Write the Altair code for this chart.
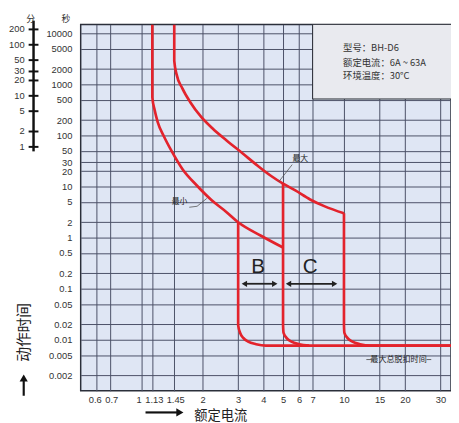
import altair as alt
import pandas as pd

RED = "#e3232c"
INK = "#23262e"
GRID = "#4a5066"
BOX = "#e9eaef"
CJK = "Noto Sans CJK SC"
LATIN = "Liberation Sans"

# ---- axes ----
x_ticks = [0.6, 0.7, 1, 1.13, 1.45, 2, 3, 4, 5, 6, 7, 10, 15, 20, 30]
y_ticks = [10000, 5000, 2000, 1000, 500, 200, 100, 50, 30, 20, 10, 5, 2, 1,
           0.5, 0.2, 0.1, 0.05, 0.02, 0.01, 0.005, 0.002]
minute_ticks = [200, 100, 50, 30, 20, 10, 5, 2, 1]
x_domain = [0.5, 33.8]
y_domain = [0.001, 15000]

# ---- curves (multiple of rated current, seconds) ----
min_curve_x = [1.13, 1.13, 1.16, 1.20, 1.29, 1.41, 1.59, 1.88, 2.22, 2.63, 3.0, 3.89, 5.0]
min_curve_y = [15000, 560, 316, 186, 96, 49, 22.2, 10.4, 5.4, 3.16, 2.0, 1.09, 0.64]

max_curve_x = [1.45, 1.45, 1.49, 1.59, 1.74, 1.97, 2.25, 2.63, 3.15, 3.76, 4.35, 5.0, 5.75, 6.8, 8.04, 10.0]
max_curve_y = [15000, 2900, 1560, 840, 450, 232, 136, 80, 45, 25.3, 16.3, 11.4, 8.4, 5.6, 4.1, 3.0]

drop3_x = [3.0, 3.0, 3.07, 3.18, 3.36, 3.68, 4.11, 40]
drop3_y = [2.0, 0.0194, 0.0136, 0.0109, 0.0092, 0.0082, 0.0077, 0.0077]

drop5_x = [5.0, 5.0, 5.03, 5.2, 5.5, 6.01, 6.72]
drop5_y = [11.4, 0.0194, 0.0136, 0.0109, 0.0092, 0.0082, 0.0077]

drop10_x = [10.0, 10.0, 10.05, 10.4, 11.0, 12.0, 13.5, 40]
drop10_y = [3.0, 0.0194, 0.0136, 0.0109, 0.0092, 0.0082, 0.0077, 0.0077]

# ---- annotations ----
box_x = [7.0, 40]
box_y = [520, 15000]
info_lines = ["型号：BH-D6", "额定电流：6A ~ 63A", "环境温度：30°C"]
info_x = [9.9, 9.9, 9.9]
info_y = [5150, 2650, 1490]

label_text = ["最大", "最小"]
label_x = [6.08, 1.54]
label_y = [34.5, 4.92]

leader_max_x = [5.55, 4.75]
leader_max_y = [27.0, 12.3]
leader_min_x = [1.72, 1.88, 2.10]
leader_min_y = [3.94, 4.12, 5.87]

zone_text = ["B", "C"]
zone_x = [3.76, 6.80]
zone_y = [0.265, 0.265]
arrow_start = [3.22, 5.32]
arrow_end = [4.55, 8.99]
arrow_y = [0.125, 0.125]

trip_text = "最大总脱扣时间"
trip_x = 18.6
trip_y = 0.0041
trip_dash_x1 = [12.9, 25.6]
trip_dash_x2 = [13.7, 27.0]

# ---- build tables ----
rows = []
for name, xs_, ys_ in [("min", min_curve_x, min_curve_y), ("max", max_curve_x, max_curve_y),
                       ("d3", drop3_x, drop3_y), ("d5", drop5_x, drop5_y), ("d10", drop10_x, drop10_y)]:
    for i, (a, b) in enumerate(zip(xs_, ys_)):
        rows.append({"series": name, "x": a, "y": b, "order": i})
curves = pd.DataFrame(rows)

lrows = []
for name, xs_, ys_ in [("lmax", leader_max_x, leader_max_y), ("lmin", leader_min_x, leader_min_y)]:
    for i, (a, b) in enumerate(zip(xs_, ys_)):
        lrows.append({"series": name, "x": a, "y": b, "order": i})
leaders = pd.DataFrame(lrows)

box_df = pd.DataFrame({"x1": [box_x[0]], "x2": [box_x[1]], "y1": [box_y[0]], "y2": [box_y[1]]})
info_df = pd.DataFrame({"t": info_lines, "x": info_x, "y": info_y})
label_df = pd.DataFrame({"t": label_text, "x": label_x, "y": label_y})
zone_df = pd.DataFrame({"t": zone_text, "x": zone_x, "y": zone_y})
arrow_df = pd.DataFrame({"x1": arrow_start, "x2": arrow_end, "y": arrow_y})
head_l = pd.DataFrame({"x": arrow_start, "y": arrow_y})
head_r = pd.DataFrame({"x": arrow_end, "y": arrow_y})
trip_df = pd.DataFrame({"t": [trip_text], "x": [trip_x], "y": [trip_y]})
dash_df = pd.DataFrame({"x1": trip_dash_x1, "x2": trip_dash_x2, "y": [trip_y, trip_y]})
minute_df = pd.DataFrame({"m": [str(m) for m in minute_ticks], "s": [m * 60 for m in minute_ticks]})
minute_line = pd.DataFrame({"s1": [49], "s2": [17800]})
one = pd.DataFrame({"a": [0]})

xs = alt.Scale(type="log", domain=x_domain, nice=False)
ys = alt.Scale(type="log", domain=y_domain, nice=False)

x_label_offset = {
    "condition": [
        {"test": "datum.value == 0.6", "value": -2},
        {"test": "datum.value == 0.7", "value": 1},
        {"test": "datum.value == 1", "value": -3},
        {"test": "datum.value == 1.13", "value": 1.5},
        {"test": "datum.value == 1.45", "value": 1},
    ],
    "value": 0,
}

x_axis = alt.Axis(values=x_ticks, format="~g", labelOffset=x_label_offset,
                  labelOverlap=False, labelFlush=False,
                  ticks=False, tickSize=0, domain=False, grid=True, gridColor=GRID, gridWidth=1,
                  labelFont=LATIN, labelFontSize=9.5, labelColor="#333", labelPadding=4,
                  title="额定电流", titleFont=CJK, titleFontSize=13.5, titleFontWeight="normal",
                  titleColor="#222", titleX=142, titleY=25, titleAlign="center", titleBaseline="middle")
y_axis = alt.Axis(values=y_ticks, format="~g", labelOverlap=False, labelFlush=False,
                  ticks=False, tickSize=0, domain=False, grid=True, gridColor=GRID, gridWidth=1,
                  labelFont=LATIN, labelFontSize=9.5, labelColor="#333", labelPadding=9,
                  title="动作时间", titleFont=CJK, titleFontSize=15, titleFontWeight="normal",
                  titleColor="#222", titleX=-58, titleY=313, titleAngle=270,
                  titleAlign="center", titleBaseline="middle")


def X(f="x"):
    return alt.X(f + ":Q", scale=xs, axis=x_axis)


def Y(f="y"):
    return alt.Y(f + ":Q", scale=ys, axis=y_axis)


box = alt.Chart(box_df).mark_rect(fill=BOX, stroke=INK, strokeWidth=1, clip=True).encode(
    x=X("x1"), x2="x2:Q", y=Y("y1"), y2="y2:Q")

lines = alt.Chart(curves).mark_line(color=RED, strokeWidth=2.7, strokeJoin="round",
                                    interpolate="monotone", clip=True).encode(
    x=X(), y=Y(), detail="series:N", order="order:Q")

leader = alt.Chart(leaders).mark_line(color="#555", strokeWidth=0.8).encode(
    x=X(), y=Y(), detail="series:N", order="order:Q")

info = alt.Chart(info_df).mark_text(font=CJK, fontSize=9.5, color="#333", align="left", baseline="middle").encode(
    x=X(), y=Y(), text="t:N")

labels = alt.Chart(label_df).mark_text(font=CJK, fontSize=8, color="#222", align="center", baseline="middle").encode(
    x=X(), y=Y(), text="t:N")

zones = alt.Chart(zone_df).mark_text(font=LATIN, fontSize=21, color="#222", align="center", baseline="middle").encode(
    x=X(), y=Y(), text="t:N")

arrows = alt.Chart(arrow_df).mark_rule(color="#222", strokeWidth=1.8).encode(x=X("x1"), x2="x2:Q", y=Y())
hl = alt.Chart(head_l).mark_point(shape="triangle-left", filled=True, size=40, color="#222", opacity=1).encode(x=X(), y=Y())
hr = alt.Chart(head_r).mark_point(shape="triangle-right", filled=True, size=40, color="#222", opacity=1).encode(x=X(), y=Y())

trip = alt.Chart(trip_df).mark_text(font=CJK, fontSize=8.2, color="#222", align="center", baseline="middle").encode(
    x=X(), y=Y(), text="t:N")
dashes = alt.Chart(dash_df).mark_rule(color="#444", strokeWidth=0.8).encode(x=X("x1"), x2="x2:Q", y=Y())

# minute axis drawn on the shared seconds scale
m_line = alt.Chart(minute_line).mark_rule(color="#111", strokeWidth=2.5).encode(
    x=alt.value(-48), y=Y("s1"), y2="s2:Q")
m_cross = alt.Chart(minute_df).mark_rule(color="#111", strokeWidth=2).encode(
    x=alt.value(-53), x2=alt.value(-43), y=Y("s"))
m_text = alt.Chart(minute_df).mark_text(font=LATIN, fontSize=9.5, color="#333", align="right", baseline="middle").encode(
    x=alt.value(-57), y=Y("s"), text="m:N")
unit_min = alt.Chart(one).mark_text(text="分", font=CJK, fontSize=9, color="#333").encode(x=alt.value(-51), y=alt.value(-6))
unit_sec = alt.Chart(one).mark_text(text="秒", font=CJK, fontSize=9, color="#333").encode(x=alt.value(-15), y=alt.value(-6))

# title arrows
xa_shaft = alt.Chart(one).mark_rule(color="#111", strokeWidth=2.2).encode(x=alt.value(66), x2=alt.value(98), y=alt.value(395))
xa_head = alt.Chart(one).mark_point(shape="triangle-right", filled=True, size=70, color="#111", opacity=1).encode(
    x=alt.value(101), y=alt.value(395))
ya_shaft = alt.Chart(one).mark_rule(color="#111", strokeWidth=2.2).encode(x=alt.value(-58), y=alt.value(363), y2=alt.value(378))
ya_head = alt.Chart(one).mark_point(shape="triangle-up", filled=True, size=70, color="#111", opacity=1).encode(
    x=alt.value(-58), y=alt.value(360))

chart = alt.layer(
    box, lines, leader, info, labels, zones, arrows, hl, hr, trip, dashes,
    m_line, m_cross, m_text, unit_min, unit_sec, xa_shaft, xa_head, ya_shaft, ya_head
).properties(
    width=377, height=373,
    autosize=alt.AutoSizeParams(type="none"),
    padding={"left": 74, "top": 13, "right": 0, "bottom": 29},
).configure_view(
    fill="#dfe6f4", stroke="#2b2f3a", strokeWidth=1.5
)

chart.save("out.html", embed_options={"renderer": "svg", "actions": False})
